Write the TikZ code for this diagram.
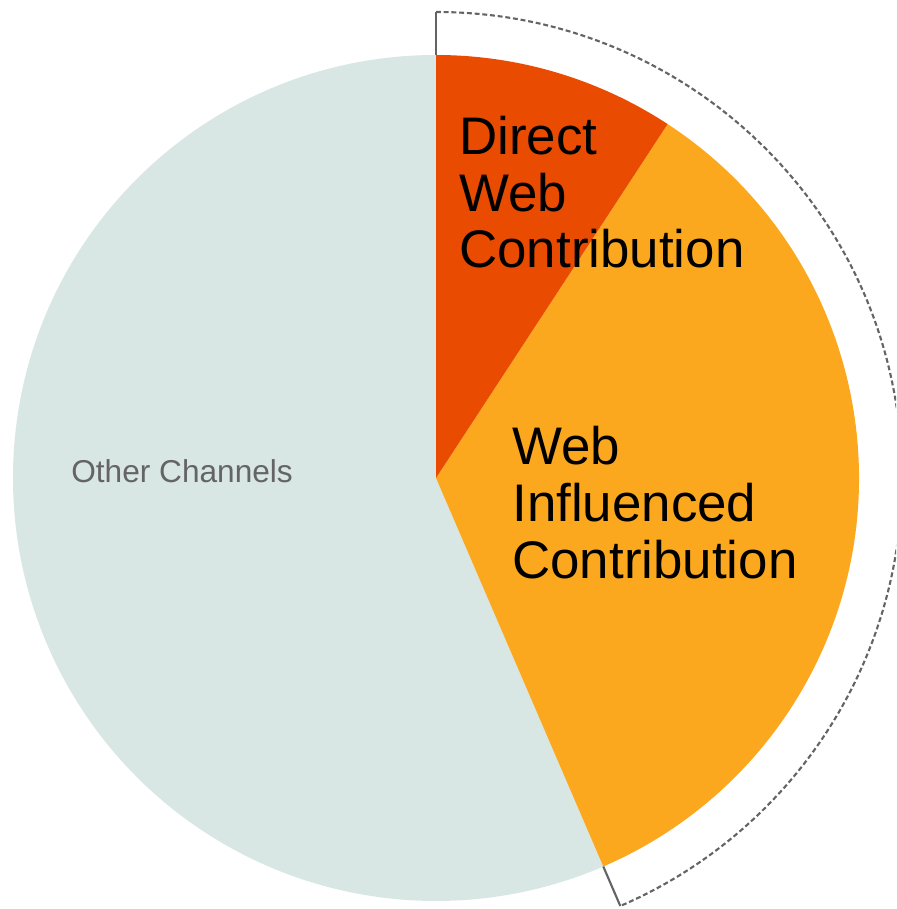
\documentclass[tikz,border=0pt]{standalone}
\usepackage{fontspec}
\setmainfont{Liberation Sans}
\definecolor{directweb}{RGB}{233,75,0}
\definecolor{webinfl}{RGB}{252,168,30}
\definecolor{otherch}{RGB}{216,230,228}
\definecolor{guide}{RGB}{100,100,100}
\tikzset{
  biglabel/.style={anchor=base west, align=left, inner sep=0pt,
    font=\fontsize{30.1}{32.3}\selectfont},
  smalllabel/.style={anchor=base west, inner sep=0pt, text=guide,
    font=\fontsize{18}{21}\selectfont},
  bracket/.style={guide, line width=1.2pt},
}
\begin{document}
\begin{tikzpicture}[x=0.02cm, y=0.02cm]
    \useasboundingbox (-436, -431) rectangle (460, 478) ;
    \clip (-436, -431) rectangle (460, 478) ;
    \fill[otherch] (0, 0) -- (90:423) arc[start angle=90, end angle=293.3, radius=423] -- cycle ;
    \fill[webinfl] (0, 0) -- (56.8:423) arc[start angle=56.8, end angle=-66.7, radius=423] -- cycle ;
    \fill[directweb] (0, 0) -- (90:423) arc[start angle=90, end angle=56.8, radius=423] -- cycle ;
    \coordinate (pietop) at (90:423) ;
    \coordinate (piecut) at (-66.7:423) ;
    \coordinate (arctop) at (90:466) ;
    \coordinate (arcend) at (-66.7:466) ;
    \draw[bracket] (pietop) -- (arctop) ;
    \draw[bracket, dash pattern=on 2.8pt off 1.6pt] (arctop) arc[start angle=90, end angle=-66.7, radius=466] ;
    \draw[bracket] (arcend) -- (piecut) ;
    \node[biglabel] (direct) at (23, 210) {Direct\\Web\\Contribution} ;
    \node[biglabel] (influenced) at (76, -100) {Web\\Influenced\\Contribution} ;
    \node[smalllabel] (other) at (-365, -5) {Other Channels} ;
  \end{tikzpicture}
\end{document}
